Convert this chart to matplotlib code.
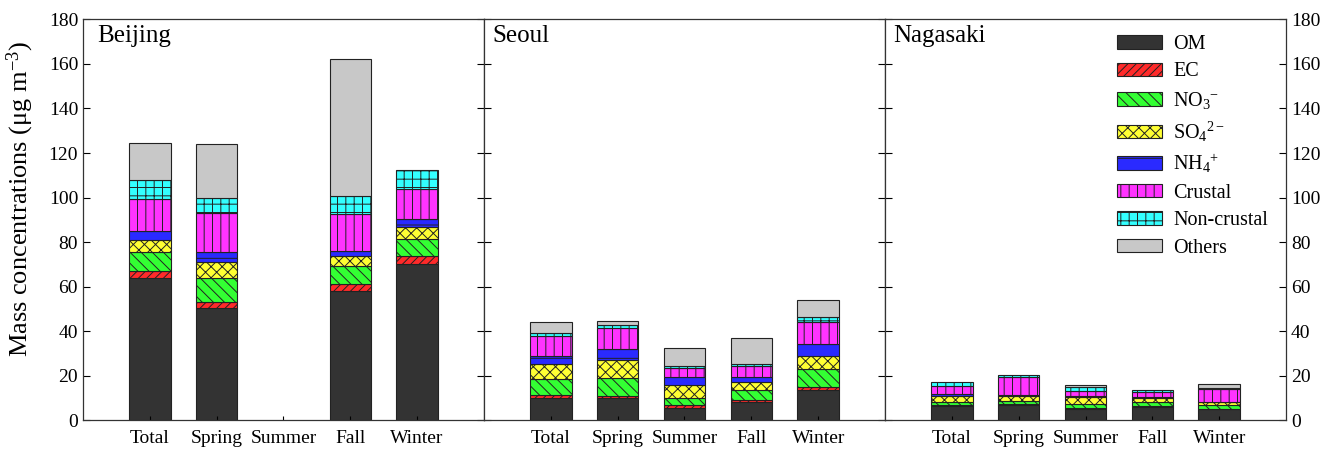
import matplotlib
matplotlib.use("Agg")
import matplotlib.pyplot as plt
import numpy as np

plt.rcParams["font.family"] = ["Liberation Serif", "DejaVu Serif"]
plt.rcParams["mathtext.fontset"] = "custom"
plt.rcParams["mathtext.rm"] = "Liberation Serif"
plt.rcParams["mathtext.it"] = "Liberation Serif:italic"
plt.rcParams["mathtext.default"] = "regular"
plt.rcParams["hatch.linewidth"] = 0.7

cities = ["Beijing", "Seoul", "Nagasaki"]
seasons = ["Total", "Spring", "Summer", "Fall", "Winter"]
component_labels = ["OM", "EC", "NO$_3$$^{-}$", "SO$_4$$^{2-}$", "NH$_4$$^{+}$",
                    "Crustal", "Non-crustal", "Others"]

# Mass concentrations (ug m-3) per bar: Beijing x5 seasons, Seoul x5, Nagasaki x5
om = [64.0, 50.6, 0.0, 58.3, 70.3, 10.2, 10.3, 5.8, 8.1, 13.8, 6.5, 7.0, 5.2, 6.2, 5.0]
ec = [3.3, 2.5, 0.0, 3.0, 3.3, 1.3, 0.9, 1.1, 1.2, 1.2, 0.3, 0.4, 0.3, 0.4, 0.3]
no3 = [8.2, 10.8, 0.0, 8.0, 7.9, 7.2, 8.0, 3.4, 4.2, 8.2, 1.5, 1.4, 1.9, 1.7, 1.5]
so4 = [5.6, 7.2, 0.0, 4.3, 5.3, 6.7, 8.0, 5.7, 3.7, 5.7, 2.5, 2.3, 3.0, 1.8, 1.4]
nh4 = [3.9, 4.4, 0.0, 2.4, 3.7, 3.5, 4.7, 3.3, 2.5, 5.2, 0.9, 0.5, 0.7, 0.6, 0.2]
crustal = [14.5, 17.6, 0.0, 16.7, 13.2, 8.8, 9.5, 4.3, 4.8, 10.3, 3.9, 7.8, 2.3, 2.1, 5.6]
noncrustal = [8.2, 6.9, 0.0, 8.0, 8.8, 1.7, 1.4, 0.9, 0.8, 2.0, 1.5, 1.0, 1.5, 0.9, 0.7]
others = [17.0, 24.2, 0.0, 61.6, 0.0, 4.7, 1.8, 8.0, 11.8, 7.5, 0.0, 0.0, 1.2, 0.0, 1.7]

y_ticks = [0, 20, 40, 60, 80, 100, 120, 140, 160, 180]

layers = [om, ec, no3, so4, nh4, crustal, noncrustal, others]
colors = ["#333333", "#ff2a2a", "#33ff33", "#ffff33", "#2a2aff",
          "#ff33ff", "#33ffff", "#c8c8c8"]
hatches = ["", "////", "\\\\\\", "xxx", "-", "||", "++", ""]

fig, axes = plt.subplots(1, 3, figsize=(13.36, 4.5), dpi=100, sharey=True)
fig.subplots_adjust(left=0.0621, right=0.9626, bottom=0.0656, top=0.957, wspace=0)

x = np.arange(1, len(seasons) + 1)
title_x = [0.035, 0.022, 0.020]
edge = "#222222"

for ci, (ax, city) in enumerate(zip(axes, cities)):
    sl = slice(ci * 5, ci * 5 + 5)
    bottom = np.zeros(len(seasons))
    for vals, col, hat, lab in zip(layers, colors, hatches, component_labels):
        v = np.array(vals[sl], dtype=float)
        drawn = v > 0
        ax.bar(x[drawn], v[drawn], width=0.62, bottom=bottom[drawn], color=col,
               hatch=hat, edgecolor=edge, linewidth=0.8, label=lab)
        bottom += v
    ax.set_xlim(0, 6)
    ax.set_ylim(0, 180)
    ax.set_xticks(x)
    ax.set_xticklabels(seasons, fontsize=14)
    ax.set_yticks(y_ticks)
    ax.tick_params(axis="x", direction="in", length=3, width=0.8, pad=7)
    ax.tick_params(axis="y", direction="in", length=5, width=0.8,
                   left=True, right=True, labelsize=14,
                   labelleft=(ci == 0), labelright=(ci == 2))
    for sp in ax.spines.values():
        sp.set_linewidth(0.9)
        sp.set_color("#333333")
    ax.text(title_x[ci], 0.943, city, transform=ax.transAxes, fontsize=18,
            ha="left", va="baseline")

axes[0].set_ylabel("Mass concentrations (μg m$^{-3}$)", fontsize=19)
axes[0].yaxis.set_label_coords(-0.118, 0.552)

handles, labels = axes[2].get_legend_handles_labels()
fig.legend(handles, labels, loc="upper left",
           bbox_to_anchor=(1117 / 1336, 1 - 35 / 450),
           bbox_transform=fig.transFigure, frameon=False, fontsize=14.5,
           handlelength=2.25, handleheight=0.65, handletextpad=0.55,
           labelspacing=0.42, borderpad=0, borderaxespad=0)

fig.savefig("out.png", dpi=100)
